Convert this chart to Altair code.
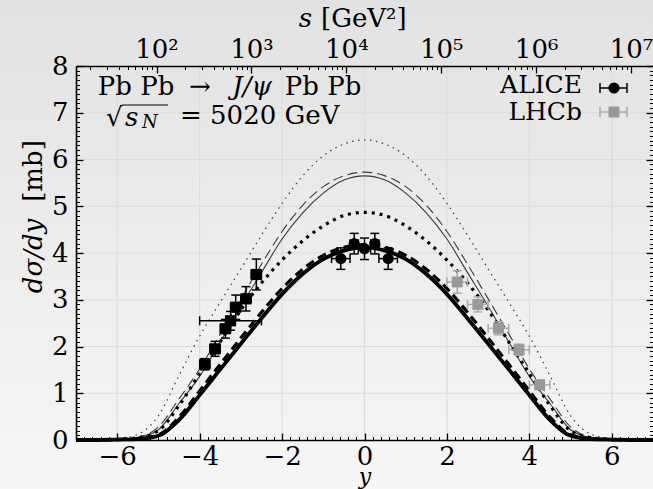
import altair as alt
import pandas as pd
import numpy as np

FONT = "DejaVu Serif"
FS = 26

# ---------------- data ----------------
Y_GRID = [-7.0, -6.5, -6.0, -5.5, -5.0, -4.5, -4.0, -3.5, -3.0, -2.5, -2.0, -1.5, -1.0, -0.5,
          0.0, 0.5, 1.0, 1.5, 2.0, 2.5, 3.0, 3.5, 4.0, 4.5, 5.0, 5.5, 6.0, 6.5, 7.0]

THIN_DOTTED = [0.0, 0.01, 0.03, 0.12, 0.52, 1.38, 2.22, 2.95, 3.66, 4.38, 5.06, 5.65, 6.08, 6.33, 6.42,
               6.33, 6.08, 5.65, 5.06, 4.38, 3.66, 2.95, 2.22, 1.38, 0.52, 0.12, 0.03, 0.01, 0.0]
THIN_DASHED = [0.0, 0.005, 0.015, 0.06, 0.28, 0.88, 1.52, 2.27, 3.02, 3.76, 4.46, 5.02, 5.42, 5.65, 5.73,
               5.65, 5.42, 5.02, 4.46, 3.76, 3.02, 2.27, 1.52, 0.88, 0.28, 0.06, 0.015, 0.005, 0.0]
THIN_SOLID = [0.0, 0.005, 0.01, 0.05, 0.22, 0.78, 1.36, 2.10, 2.86, 3.58, 4.30, 4.86, 5.28, 5.56, 5.65,
              5.56, 5.28, 4.86, 4.30, 3.58, 2.86, 2.10, 1.36, 0.78, 0.22, 0.05, 0.01, 0.005, 0.0]
THICK_DOTTED = [0.0, 0.0, 0.01, 0.05, 0.20, 0.74, 1.42, 2.10, 2.78, 3.36, 3.85, 4.26, 4.58, 4.80, 4.87,
                4.80, 4.58, 4.26, 3.85, 3.36, 2.78, 2.10, 1.42, 0.74, 0.20, 0.05, 0.01, 0.0, 0.0]
THICK_DASHED = [0.0, 0.0, 0.01, 0.03, 0.11, 0.49, 1.05, 1.62, 2.18, 2.73, 3.24, 3.65, 3.95, 4.12, 4.18,
                4.12, 3.95, 3.65, 3.24, 2.73, 2.18, 1.62, 1.05, 0.49, 0.11, 0.03, 0.01, 0.0, 0.0]
THICK_SOLID = [0.0, 0.0, 0.01, 0.02, 0.09, 0.43, 0.96, 1.51, 2.06, 2.60, 3.12, 3.55, 3.87, 4.05, 4.12,
               4.05, 3.87, 3.55, 3.12, 2.60, 2.06, 1.51, 0.96, 0.43, 0.09, 0.02, 0.01, 0.0, 0.0]

CURVE_NAMES = ["thin dotted", "thin dashed", "thin solid", "thick dotted", "thick dashed", "thick solid"]
CURVE_VALUES = [THIN_DOTTED, THIN_DASHED, THIN_SOLID, THICK_DOTTED, THICK_DASHED, THICK_SOLID]

# ALICE (forward bins, wide forward bin, mid-rapidity)
ALICE_Y = [-3.875, -3.625, -3.375, -3.125, -2.875, -2.625, -3.25, -0.575, -0.25, 0.0, 0.25, 0.575]
ALICE_V = [1.62, 1.95, 2.38, 2.84, 3.02, 3.54, 2.55, 3.88, 4.20, 4.09, 4.20, 3.88]
ALICE_DV = [0.12, 0.16, 0.20, 0.26, 0.26, 0.33, 0.20, 0.23, 0.22, 0.23, 0.22, 0.23]
ALICE_DY = [0.125, 0.125, 0.125, 0.125, 0.125, 0.125, 0.75, 0.225, 0.1, 0.15, 0.1, 0.225]
ALICE_SHAPE = ["square"] * 7 + ["circle"] * 5

# LHCb
LHCB_Y = [2.25, 2.75, 3.25, 3.75, 4.25]
LHCB_V = [3.38, 2.90, 2.39, 1.93, 1.18]
LHCB_DV = [0.24, 0.16, 0.14, 0.12, 0.10]
LHCB_DY = [0.25, 0.25, 0.25, 0.25, 0.25]

# axis ticks
X_MAJOR = [-6, -4, -2, 0, 2, 4, 6]
Y_MAJOR = [0, 1, 2, 3, 4, 5, 6, 7, 8]
X_MINOR = [round(-7 + 0.2 * i, 1) for i in range(71) if (i % 10) != 5]
Y_MINOR = [round(i / 10, 1) for i in range(81) if i % 10 != 0]

# top axis: s = M_Jpsi * sqrt(s_NN) * exp(y)
M_SQRTS = 3.0969 * 5020.0
S_MIN = M_SQRTS * np.exp(-7.0)
S_MAX = M_SQRTS * np.exp(7.0)
S_MAJOR = [1e2, 1e3, 1e4, 1e5, 1e6, 1e7]
S_MINOR = [k * 10.0 ** n for n in range(1, 8) for k in range(2, 10) if S_MIN <= k * 10.0 ** n <= S_MAX]

# ---------------- styles ----------------
CURVE_STYLE = {
    "thin dotted": dict(color="#3a3a3a", strokeWidth=1.2, strokeDash=[1.5, 4.5]),
    "thin dashed": dict(color="#3a3a3a", strokeWidth=1.1, strokeDash=[10, 5]),
    "thin solid": dict(color="#3a3a3a", strokeWidth=1.1),
    "thick dotted": dict(color="black", strokeWidth=3.2, strokeDash=[3, 5]),
    "thick dashed": dict(color="black", strokeWidth=3.2, strokeDash=[9, 5]),
    "thick solid": dict(color="black", strokeWidth=3.8),
}

W, H = 577, 374
XS = alt.Scale(domain=[-7, 7], nice=False, zero=False)
YS = alt.Scale(domain=[0, 8], nice=False, zero=False)
SS = alt.Scale(type="log", domain=[S_MIN, S_MAX], nice=False)

alice_df = pd.DataFrame({"y": ALICE_Y, "v": ALICE_V, "dv": ALICE_DV, "dy": ALICE_DY, "shape": ALICE_SHAPE})
alice_df["lo"] = alice_df["v"] - alice_df["dv"]
alice_df["hi"] = alice_df["v"] + alice_df["dv"]
alice_df["xlo"] = alice_df["y"] - alice_df["dy"]
alice_df["xhi"] = alice_df["y"] + alice_df["dy"]

lhcb_df = pd.DataFrame({"y": LHCB_Y, "v": LHCB_V, "dv": LHCB_DV, "dy": LHCB_DY})
lhcb_df["lo"] = lhcb_df["v"] - lhcb_df["dv"]
lhcb_df["hi"] = lhcb_df["v"] + lhcb_df["dv"]
lhcb_df["xlo"] = lhcb_df["y"] - lhcb_df["dy"]
lhcb_df["xhi"] = lhcb_df["y"] + lhcb_df["dy"]

one = pd.DataFrame({"a": [0]})

# ---------------- layers ----------------
bg = alt.Chart(one).mark_rect(
    fill=alt.Gradient(gradient="linear",
                      stops=[alt.GradientStop(color="#e2e2e2", offset=0),
                             alt.GradientStop(color="#f6f6f6", offset=1)],
                      x1=0, x2=0, y1=0, y2=1)
).encode(x=alt.value(-76), x2=alt.value(W), y=alt.value(-66), y2=alt.value(489 - 66))

grid_x = alt.Chart(pd.DataFrame({"g": X_MAJOR})).mark_rule(color="#dcdcdc", strokeWidth=1.2).encode(
    x=alt.X("g:Q", scale=XS, axis=None))
grid_y = alt.Chart(pd.DataFrame({"g": Y_MAJOR[1:-1]})).mark_rule(color="#dcdcdc", strokeWidth=1.2).encode(
    y=alt.Y("g:Q", scale=YS, axis=None))

X_AXIS = alt.Axis(orient="bottom", values=X_MAJOR, ticks=False, domain=True, domainColor="black",
                  domainWidth=1.6, labelFont=FONT, labelFontSize=FS, labelColor="black", labelPadding=3,
                  labelFlush=False, title=None, grid=False, zindex=2)
Y_AXIS = alt.Axis(orient="left", values=Y_MAJOR, ticks=False, domain=True, domainColor="black",
                  domainWidth=1.6, labelFont=FONT, labelFontSize=FS, labelColor="black", labelPadding=8,
                  labelFlush=False, title=None, grid=False, zindex=2)

curves = []
for i, (name, vals) in enumerate(zip(CURVE_NAMES, CURVE_VALUES)):
    df = pd.DataFrame({"y": Y_GRID, "v": vals})
    curves.append(alt.Chart(df).mark_line(interpolate="monotone", **CURVE_STYLE[name]).encode(
        x=alt.X("y:Q", scale=XS, axis=X_AXIS if i == 0 else None),
        y=alt.Y("v:Q", scale=YS, axis=Y_AXIS if i == 0 else None),
    ))


def errbars(df, color, width, cap):
    vbar = alt.Chart(df).mark_rule(color=color, strokeWidth=width).encode(
        x=alt.X("y:Q", scale=XS, axis=None), y=alt.Y("lo:Q", scale=YS, axis=None), y2="hi:Q")
    hbar = alt.Chart(df).mark_rule(color=color, strokeWidth=width).encode(
        x=alt.X("xlo:Q", scale=XS, axis=None), x2="xhi:Q", y=alt.Y("v:Q", scale=YS, axis=None))
    vcap = alt.Chart(df).transform_fold(["lo", "hi"], as_=["k", "c"]).mark_tick(
        orient="horizontal", size=cap, thickness=width, color=color, opacity=1).encode(
        x=alt.X("y:Q", scale=XS, axis=None), y=alt.Y("c:Q", scale=YS, axis=None))
    hcap = alt.Chart(df).transform_fold(["xlo", "xhi"], as_=["k", "c"]).mark_tick(
        orient="vertical", size=cap, thickness=width, color=color, opacity=1).encode(
        x=alt.X("c:Q", scale=XS, axis=None), y=alt.Y("v:Q", scale=YS, axis=None))
    return [vbar, hbar, vcap, hcap]


alice_pts = alt.Chart(alice_df).mark_point(filled=True, opacity=1, color="black").encode(
    x=alt.X("y:Q", scale=XS, axis=None), y=alt.Y("v:Q", scale=YS, axis=None),
    shape=alt.Shape("shape:N", scale=None), size=alt.value(125))
lhcb_pts = alt.Chart(lhcb_df).mark_point(filled=True, opacity=1, color="#999999", shape="square").encode(
    x=alt.X("y:Q", scale=XS, axis=None), y=alt.Y("v:Q", scale=YS, axis=None), size=alt.value(120))


def txt(s, x, y, size=FS, style="normal", align="left", baseline="middle", angle=0):
    return alt.Chart(one).mark_text(font=FONT, fontSize=size, fontStyle=style, align=align,
                                    baseline=baseline, angle=angle, color="black").encode(
        x=alt.value(x), y=alt.value(y), text=alt.value(s))


def vrule(x1, x2, y, color, width=1.5):
    return alt.Chart(one).mark_rule(color=color, strokeWidth=width).encode(
        x=alt.value(x1), x2=alt.value(x2), y=alt.value(y))


def hrule(x, y1, y2, color, width=1.5):
    return alt.Chart(one).mark_rule(color=color, strokeWidth=width).encode(
        x=alt.value(x), y=alt.value(y1), y2=alt.value(y2))


annotations = [
    txt("Pb Pb", 60, 21, align="center"),
    txt("→", 124, 21, align="center"),
    txt("J/ψ", 176, 21, style="italic", align="center"),
    txt("Pb Pb", 247, 21, align="center"),
    txt("√", 30, 52),
    vrule(46, 92, 39, "black", 1.2),
    txt("s", 49, 52, style="italic"),
    txt("N", 66, 57, size=18, style="italic"),
    txt("= 5020 GeV", 104, 50),
    # titles
    txt("s", 236, -47, style="italic", align="right"),
    txt("[GeV²]", 245, -47),
    txt("y", 289, 418, size=22, style="italic", align="center", baseline="alphabetic"),
    txt("dσ/dy", -34, 190, style="italic", align="center", baseline="alphabetic", angle=270),
    txt("[mb]", -34, 105, align="center", baseline="alphabetic", angle=270),
]

legend = [
    txt("ALICE", 506, 19, size=25, align="right"),
    txt("LHCb", 506, 46, size=25, align="right"),
    vrule(524, 551, 22, "black"),
    hrule(524, 17, 27, "black"),
    hrule(551, 17, 27, "black"),
    alt.Chart(one).mark_point(filled=True, opacity=1, color="black", shape="circle").encode(
        x=alt.value(538), y=alt.value(22), size=alt.value(125)),
    vrule(524, 551, 46, "#aaaaaa"),
    hrule(524, 41, 51, "#aaaaaa"),
    hrule(551, 41, 51, "#aaaaaa"),
    alt.Chart(one).mark_point(filled=True, opacity=1, color="#999999", shape="square").encode(
        x=alt.value(538), y=alt.value(46), size=alt.value(120)),
]


# ---------------- axis carriers (inward ticks) ----------------
def tick_axis(orient, values, size, width):
    return alt.Axis(orient=orient, values=values, labels=False, domain=False, ticks=True,
                    tickSize=size, tickWidth=width, tickColor="black", offset=-size,
                    title=None, grid=False, zindex=2)


def carrier(values, channel, scale, axis):
    base = alt.Chart(pd.DataFrame({"t": values})).mark_point(opacity=0)
    if channel == "x":
        return base.encode(x=alt.X("t:Q", scale=scale, axis=axis))
    return base.encode(y=alt.Y("t:Q", scale=scale, axis=axis))


SUP = "['⁰','¹','²','³','⁴','⁵','⁶','⁷','⁸']"
carriers = [
    carrier(X_MAJOR, "x", XS, tick_axis("bottom", X_MAJOR, 7, 1.3)),
    carrier(X_MINOR, "x", XS, tick_axis("bottom", X_MINOR, 3.5, 1.0)),
    carrier(Y_MAJOR, "y", YS, tick_axis("left", Y_MAJOR, 7, 1.3)),
    carrier(Y_MINOR, "y", YS, tick_axis("left", Y_MINOR, 3.5, 1.0)),
    carrier(Y_MAJOR, "y", YS, tick_axis("right", Y_MAJOR, 7, 1.3)),
    carrier(Y_MINOR, "y", YS, tick_axis("right", Y_MINOR, 3.5, 1.0)),
    carrier(S_MAJOR, "x", SS, alt.Axis(
        orient="top", values=S_MAJOR, ticks=False, domain=True, domainColor="black", domainWidth=1.6,
        labelFont=FONT, labelFontSize=FS, labelColor="black", labelPadding=4, labelFlush=False,
        labelOverlap=False, labelExpr="'10' + " + SUP + "[round(log(datum.value) / LN10)]",
        title=None, grid=False, zindex=2)),
    carrier(S_MAJOR, "x", SS, tick_axis("top", S_MAJOR, 7, 1.3)),
    carrier(S_MINOR, "x", SS, tick_axis("top", S_MINOR, 3.5, 1.0)),
]

layers = ([bg, grid_x, grid_y] + curves
          + errbars(alice_df, "black", 1.5, 9)
          + errbars(lhcb_df, "#aaaaaa", 1.5, 9)
          + [alice_pts, lhcb_pts] + annotations + legend + carriers)

chart = alt.layer(*layers).resolve_scale(x="independent").resolve_axis(
    x="independent", y="independent"
).properties(
    width=W, height=H,
    padding={"left": 76, "top": 66, "right": 0, "bottom": 489 - 66 - H},
    autosize=alt.AutoSizeParams(type="none"),
    background="#ececec",
).configure_view(stroke=None)

chart.save("out.html", embed_options={"renderer": "svg", "actions": False})
